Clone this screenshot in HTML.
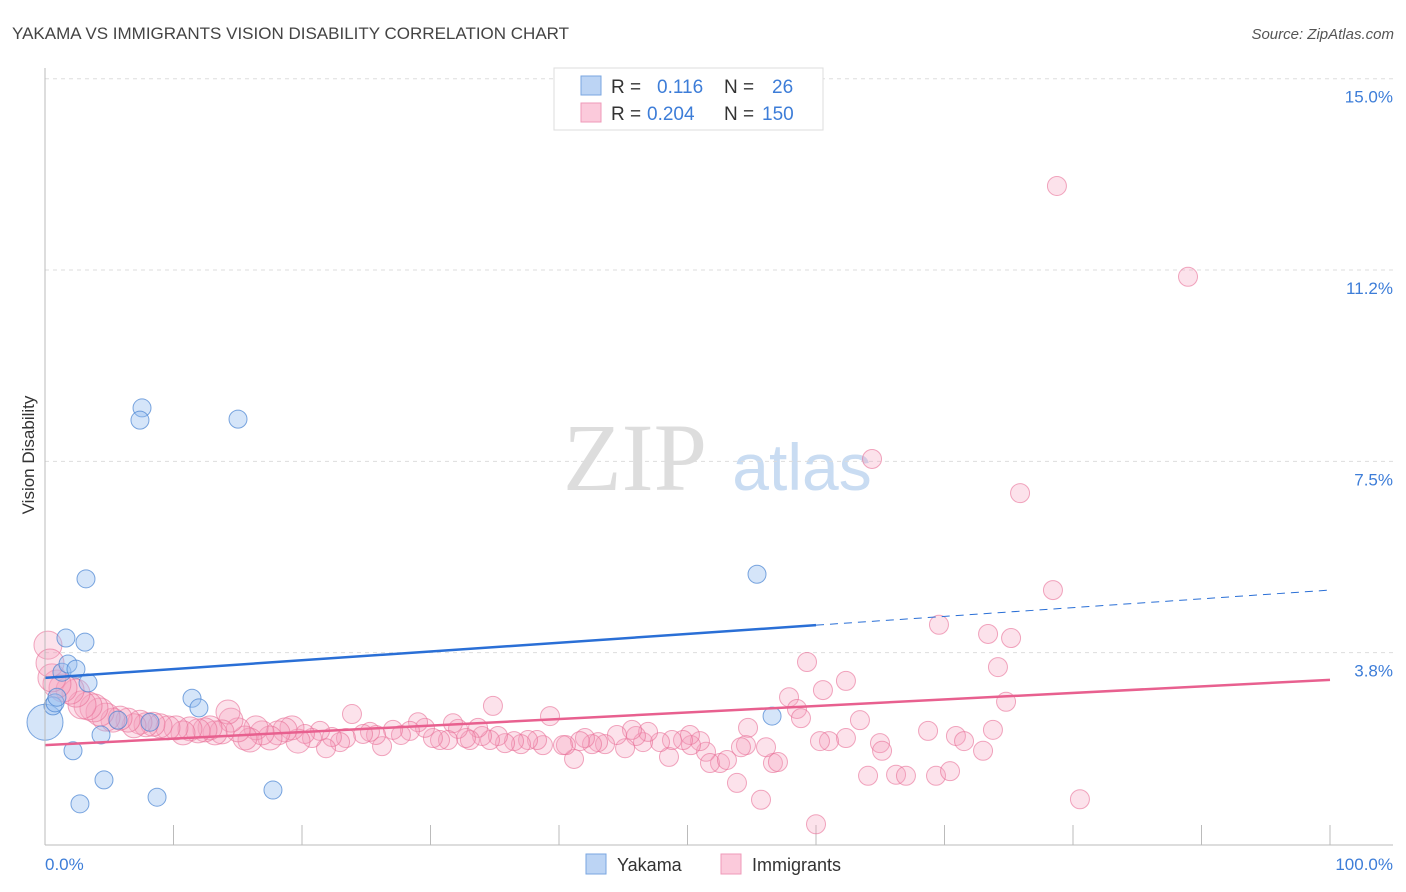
<!DOCTYPE html>
<html><head><meta charset="utf-8"><style>
body{margin:0;background:#fff;font-family:"Liberation Sans",sans-serif;}
#c{position:relative;width:1406px;height:892px;overflow:hidden}
</style></head><body>
<div id="c">
<svg id="s" width="1406" height="892" xmlns="http://www.w3.org/2000/svg">
<text x="12" y="39" font-size="17" fill="#444">YAKAMA VS IMMIGRANTS VISION DISABILITY CORRELATION CHART</text>
<text x="1394" y="39" font-size="15" fill="#555" font-style="italic" text-anchor="end">Source: ZipAtlas.com</text>
<text x="635" y="490" font-size="96" fill="#ddd" font-family="Liberation Serif,serif" text-anchor="middle">ZIP</text>
<text x="802" y="490" font-size="66" fill="#c9dcf2" text-anchor="middle">atlas</text>
<text transform="translate(34,455) rotate(-90)" font-size="17" fill="#333" text-anchor="middle">Vision Disability</text>
<g id="grid"></g><g id="pts"></g><g id="lines"></g>
<line x1="45" y1="68" x2="45" y2="845" stroke="#bbb"/>
<line x1="45" y1="845" x2="1393" y2="845" stroke="#bbb"/>
<text x="45" y="870" font-size="17" fill="#3d7dd8">0.0%</text>
<text x="1393" y="870" font-size="17" fill="#3d7dd8" text-anchor="end">100.0%</text>
<g>
<rect x="554" y="68" width="269" height="62" fill="#fff" stroke="#ddd"/>
<rect x="581" y="76" width="20" height="19" fill="#bcd4f4" stroke="#7aa6e0"/>
<rect x="581" y="103" width="20" height="19" fill="#fbcadb" stroke="#ef9ab8"/>
<text x="611" y="93" font-size="19" fill="#333">R = </text><text x="657" y="93" font-size="19" fill="#3d7dd8">0.116</text>
<text x="724" y="93" font-size="19" fill="#333">N = </text><text x="772" y="93" font-size="19" fill="#3d7dd8">26</text>
<text x="611" y="120" font-size="19" fill="#333">R = </text><text x="647" y="120" font-size="19" fill="#3d7dd8">0.204</text>
<text x="724" y="120" font-size="19" fill="#333">N = </text><text x="762" y="120" font-size="19" fill="#3d7dd8">150</text>
</g>
<g>
<rect x="586" y="854" width="20" height="20" fill="#bcd4f4" stroke="#7aa6e0"/>
<text x="617" y="871" font-size="18" fill="#333">Yakama</text>
<rect x="721" y="854" width="20" height="20" fill="#fbcadb" stroke="#ef9ab8"/>
<text x="752" y="871" font-size="18" fill="#333">Immigrants</text>
</g>
</svg>
</div>
<script>
const yTicks=[3.75,7.5,11.25,15];
const yTickLabels=["3.8%","7.5%","11.2%","15.0%"];
const xTicks=[0,10,20,30,40,50,60,70,80,90,100];
const yakX=[0,0.62,0.78,1.32,1.63,1.79,2.41,3.11,3.19,3.35,2.18,2.72,4.36,4.59,0.93,5.68,7.55,7.39,8.72,11.44,11.98,15.02,17.74,55.41,56.58,8.17];
const yakY=[2.74,3.06,3.12,3.72,4.39,3.88,3.78,4.31,5.55,3.51,2.18,1.14,2.49,1.61,3.23,2.78,8.90,8.66,1.27,3.21,3.02,8.68,1.41,5.64,2.86,2.74];
const immX=[78.75,88.95,64.36,75.88,78.44,69.57,73.39,75.18,59.30,74.16,60.54,62.33,57.90,58.52,58.83,74.79,63.42,68.72,70.89,71.52,73.77,73.00,64.98,65.14,62.33,61.01,60.31,64.05,66.23,67.00,69.34,70.43,53.85,55.72,60.00,80.54,54.71,56.65,57.04,54.55,56.11,54.16,52.53,51.44,51.75,53.07,50.97,50.27,50.19,49.65,48.56,48.79,47.86,46.54,46.93,45.99,45.68,45.14,44.51,43.58,43.04,42.57,42.02,41.63,41.17,40.54,40.31,39.30,38.75,38.29,37.59,37.04,36.50,35.80,35.25,34.86,34.63,34.01,33.70,33.07,32.76,32.14,31.75,31.36,30.74,30.19,29.57,29.03,28.40,27.70,27.08,26.23,25.76,25.29,24.75,23.89,23.42,22.96,22.33,21.87,21.40,20.78,20.23,19.69,19.22,18.68,18.13,17.51,16.89,16.42,15.95,15.56,15.02,14.47,14.24,13.77,13.23,12.84,12.45,11.91,11.28,10.74,10.19,9.57,8.95,8.40,7.86,7.39,6.93,6.46,5.84,5.29,4.75,4.28,3.81,3.35,2.88,2.41,1.95,1.40,0.93,0.54,0.23,0.39];
const immY=[13.25,11.47,7.90,7.23,5.33,4.65,4.47,4.39,3.92,3.82,3.37,3.55,3.23,3.00,2.82,3.14,2.78,2.57,2.47,2.37,2.59,2.18,2.33,2.18,2.43,2.37,2.37,1.69,1.71,1.69,1.69,1.78,1.55,1.22,0.74,1.23,2.63,1.94,1.96,2.29,2.25,2.25,1.94,2.16,1.94,2.00,2.37,2.29,2.49,2.39,2.06,2.39,2.35,2.35,2.55,2.47,2.59,2.23,2.49,2.31,2.35,2.31,2.43,2.37,2.02,2.29,2.29,2.86,2.29,2.39,2.39,2.31,2.37,2.33,2.47,3.06,2.39,2.47,2.63,2.39,2.43,2.61,2.72,2.39,2.39,2.43,2.63,2.74,2.57,2.49,2.59,2.27,2.49,2.55,2.51,2.90,2.43,2.35,2.45,2.23,2.57,2.43,2.51,2.37,2.63,2.59,2.53,2.43,2.53,2.63,2.39,2.43,2.59,2.78,2.94,2.55,2.53,2.63,2.59,2.57,2.61,2.53,2.63,2.63,2.67,2.70,2.69,2.74,2.67,2.78,2.82,2.78,2.84,2.94,3.02,3.06,3.08,3.31,3.37,3.41,3.49,3.61,4.25,3.90];
const yakTrend=[3.61,5.33];
const immTrend=[2.29,3.57];
const yakSolidEnd=60;
const NS='http://www.w3.org/2000/svg';
const xS=v=>45+v*12.85;
const yS=v=>862-v*51.02;
function mk(t,a,p){const e=document.createElementNS(NS,t);for(const k in a)e.setAttribute(k,a[k]);p.appendChild(e);return e;}
const grid=document.getElementById('grid'),pts=document.getElementById('pts'),lines=document.getElementById('lines');
yTicks.forEach((t,i)=>{
 const l=mk('line',{x1:45,x2:1393,y1:yS(t)-18,y2:yS(t)-18,stroke:'#ddd','stroke-dasharray':'4,4'},grid);
 
 
 const tx=mk('text',{x:1393,y:yS(t)+6,'font-size':17,fill:'#3d7dd8','text-anchor':'end'},grid);
 tx.textContent=yTickLabels[i];
 
 
});
xTicks.forEach(t=>{
 const l=mk('line',{x1:xS(t),x2:xS(t),y1:825,y2:845,stroke:'#bbb'},grid);
 
 
});
immX.forEach((x,i)=>{
 const r=x<5?14:(x<20?12:9.5);
 const c=mk('circle',{cx:xS(x),cy:yS(immY[i]),r:r,fill:'rgba(246,160,190,0.3)',stroke:'rgba(232,110,150,0.6)','stroke-width':1},pts);
 
 
});
yakX.forEach((x,i)=>{
 const r=i===0?18:9;
 const c=mk('circle',{cx:xS(x),cy:yS(yakY[i]),r:r,fill:'rgba(150,190,240,0.4)',stroke:'rgba(70,130,210,0.7)','stroke-width':1},pts);
 
 
});
const ty=(tr,x)=>tr[0]+(tr[1]-tr[0])*x/100;
let l1=mk('line',{x1:xS(0),y1:yS(ty(yakTrend,0)),x2:xS(yakSolidEnd),y2:yS(ty(yakTrend,yakSolidEnd)),stroke:'#2a6fd6','stroke-width':2.5},lines);


let l2=mk('line',{x1:xS(yakSolidEnd),y1:yS(ty(yakTrend,yakSolidEnd)),x2:xS(100),y2:yS(ty(yakTrend,100)),stroke:'#2a6fd6','stroke-width':1,'stroke-dasharray':'8,6'},lines);


let l3=mk('line',{x1:xS(0),y1:yS(ty(immTrend,0)),x2:xS(100),y2:yS(ty(immTrend,100)),stroke:'#e8608f','stroke-width':2.5},lines);


</script>
</body></html>
